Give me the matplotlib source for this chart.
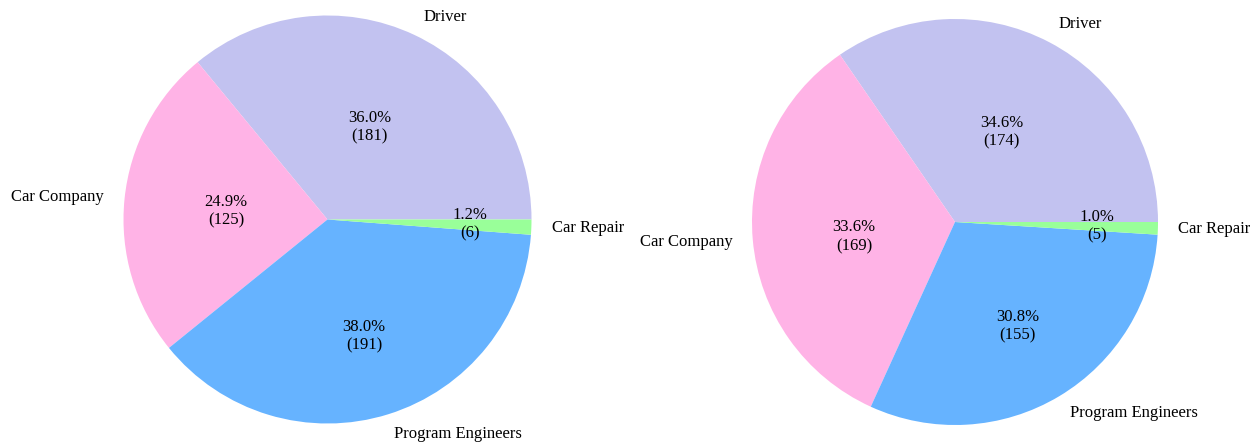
import matplotlib
matplotlib.use("Agg")
import matplotlib.pyplot as plt

# data
labels = ["Driver", "Car Company", "Program Engineers", "Car Repair"]
counts_left = [181, 125, 191, 6]
counts_right = [174, 169, 155, 5]
colors = ["#c2c2f0", "#ffb3e6", "#66b3ff", "#99ff99"]

plt.rcParams["font.family"] = ["Liberation Serif", "DejaVu Serif"]

# nudges of the percentage texts (data units), as in the original picture
pct_nudge = [(-0.05, -0.09), (0.10, -0.02), (0.0, 0.0), (0.10, 0.0)]

W, H = 1253, 444
fig = plt.figure(figsize=(W / 100, H / 100), dpi=100)


def make_autopct(values):
    total = sum(values)

    def fmt(pct):
        n = int(round(pct * total / 100.0))
        return "%1.1f%%\n(%d)" % (pct, n)
    return fmt


def draw_pie(cx, cy, r, values):
    # cx, cy, r in pixels (cy measured from the top)
    ax = fig.add_axes([(cx - r) / W, (H - cy - r) / H, 2 * r / W, 2 * r / H])
    wedges, texts, autotexts = ax.pie(values, labels=labels, colors=colors,
                                      autopct=make_autopct(values),
                                      startangle=0, counterclock=True,
                                      textprops={"fontsize": 12})
    for t, (dx, dy) in zip(autotexts, pct_nudge):
        x, y = t.get_position()
        t.set_position((x + dx, y + dy))
    ax.set_xlim(-1, 1)
    ax.set_ylim(-1, 1)
    ax.set_aspect("equal")
    return ax


draw_pie(327.5, 219.5, 204, counts_left)
draw_pie(955, 222, 203, counts_right)

plt.savefig("out.png", dpi=100)
